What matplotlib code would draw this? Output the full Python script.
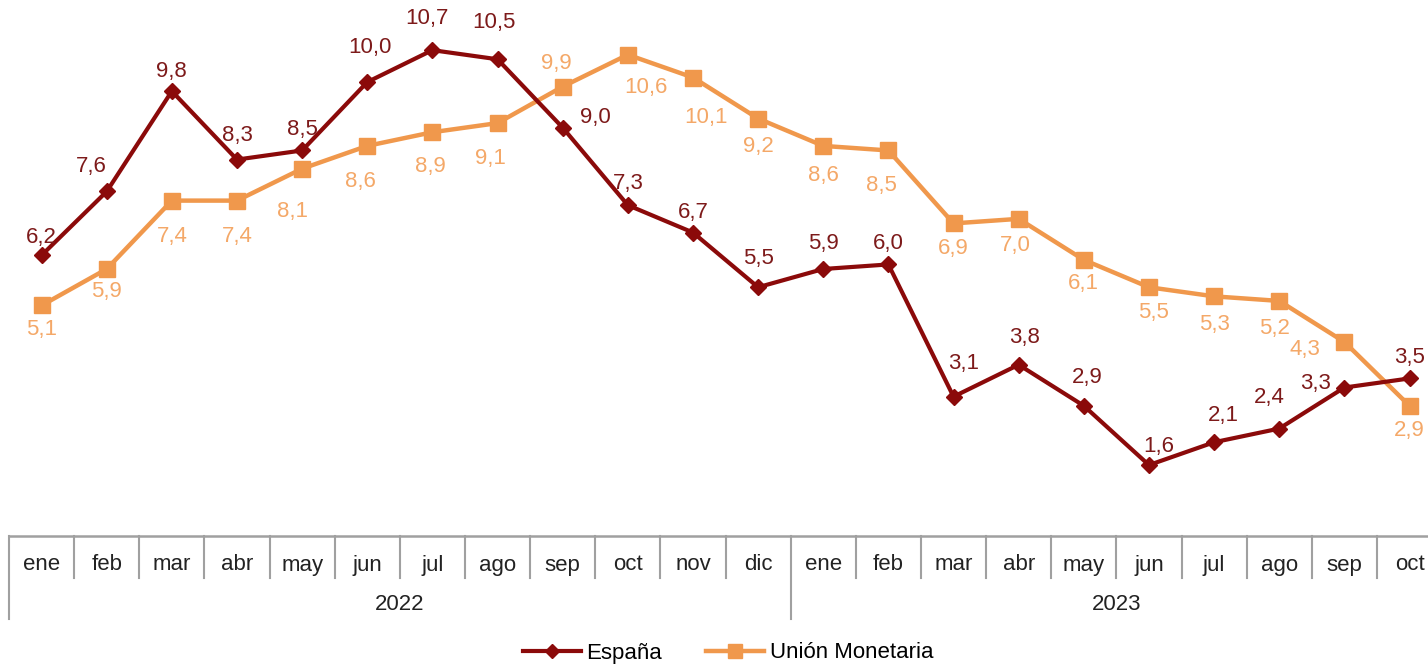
import matplotlib
matplotlib.use("Agg")
import matplotlib.pyplot as plt
from matplotlib.lines import Line2D

plt.rcParams['font.family'] = ['Liberation Sans', 'DejaVu Sans']

# datos
meses = ['ene', 'feb', 'mar', 'abr', 'may', 'jun', 'jul', 'ago', 'sep', 'oct', 'nov', 'dic',
         'ene', 'feb', 'mar', 'abr', 'may', 'jun', 'jul', 'ago', 'sep', 'oct']
anios = ['2022', '2023']
espana = [6.2, 7.6, 9.8, 8.3, 8.5, 10.0, 10.7, 10.5, 9.0, 7.3, 6.7, 5.5,
          5.9, 6.0, 3.1, 3.8, 2.9, 1.6, 2.1, 2.4, 3.3, 3.5]
union = [5.1, 5.9, 7.4, 7.4, 8.1, 8.6, 8.9, 9.1, 9.9, 10.6, 10.1, 9.2,
         8.6, 8.5, 6.9, 7.0, 6.1, 5.5, 5.3, 5.2, 4.3, 2.9]

# label offsets (pixels)
off_es = [(0, 18), (-15, 25), (0, 20), (0, 24), (0, 21), (3, 35), (-5, 32), (-4, 37),
          (33, 10), (0, 22), (0, 20), (0, 29), (0, 26), (0, 21), (10, 33), (6, 27),
          (3, 28), (10, 19), (9, 27), (-10, 31), (-29, 4), (0, 21)]
off_um = [(0, -24), (0, -23), (0, -36), (0, -36), (-10, -43), (-7, -36), (-2, -34), (-7, -35),
          (-6, 23), (18, -33), (13, -40), (0, -28), (0, -30), (-7, -35), (0, -25), (-3, -27),
          (0, -24), (5, -25), (0, -28), (-5, -28), (-39, -8), (0, -25)]

c_es = '#8B0A0A'
c_es_txt = '#7D1A1A'
c_um = '#F0984C'
c_um_txt = '#F4A868'

W, H = 1428, 665
fig = plt.figure(figsize=(W / 100, H / 100), dpi=100)

x0, x1 = 9, 9 + 22 * 65.14
ax = fig.add_axes([x0 / W, (H - 538) / H, (x1 - x0) / W, 538 / H])
x = list(range(len(meses)))
ax.plot(x, espana, color=c_es, lw=3, marker='D', ms=8, zorder=3, clip_on=False)
ax.plot(x, union, color=c_um, lw=3.2, marker='s', ms=11, zorder=2, clip_on=False)
ax.set_xlim(-0.5, len(meses) - 0.5)
ax.set_ylim(0, 11.8)
ax.axis('off')

for i in x:
    ax.annotate(f'{espana[i]:.1f}'.replace('.', ','), (i, espana[i]), xytext=off_es[i],
                textcoords='offset pixels', ha='center', va='center', fontsize=16,
                color=c_es_txt, zorder=5, annotation_clip=False)
    ax.annotate(f'{union[i]:.1f}'.replace('.', ','), (i, union[i]), xytext=off_um[i],
                textcoords='offset pixels', ha='center', va='center', fontsize=16,
                color=c_um_txt, zorder=5, annotation_clip=False)

# tabla de categorias
tb = fig.add_axes([x0 / W, (H - 620) / H, (x1 - x0) / W, 84 / H])
tb.set_xlim(-0.5, len(meses) - 0.5)
tb.set_ylim(620, 536)
tb.axis('off')
gris = '#A0A0A0'
tb.plot([-0.5, len(meses) - 0.5], [536, 536], color=gris, lw=1.8, clip_on=False)
for i in range(len(meses) + 1):
    xs = i - 0.5
    if i == 0 or i == 12:
        tb.plot([xs, xs], [536, 619], color=gris, lw=1.5, clip_on=False)
    else:
        tb.plot([xs, xs], [536, 578], color=gris, lw=1.5, clip_on=False)
for i, m in enumerate(meses):
    tb.text(i, 565, m, ha='center', va='center', fontsize=16, color='#222222')
tb.text(5.5, 604, anios[0], ha='center', va='center', fontsize=16, color='#222222')
tb.text(16.5, 604, anios[1], ha='center', va='center', fontsize=16, color='#222222')

handles = [Line2D([], [], color=c_es, lw=3, marker='D', ms=7),
           Line2D([], [], color=c_um, lw=3.2, marker='s', ms=10)]
fig.legend(handles, ['España', 'Unión Monetaria'], loc='center', ncol=2,
           bbox_to_anchor=(728 / W, 12 / H), frameon=False, fontsize=16,
           handlelength=2.6, handletextpad=0.25, columnspacing=2.0)

fig.savefig('out.png', dpi=100)
